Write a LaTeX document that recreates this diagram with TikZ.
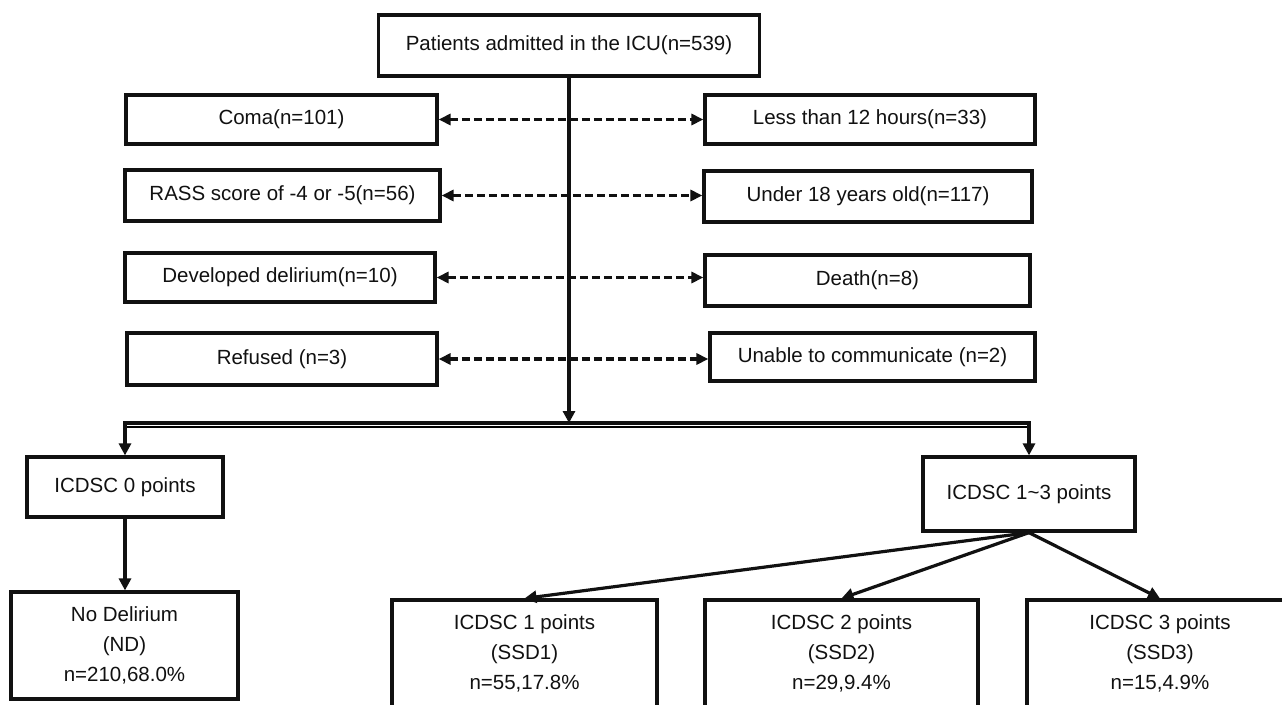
\documentclass[tikz,border=0pt]{standalone}
\usepackage{fontspec}
\setmainfont{Liberation Sans}
\usetikzlibrary{arrows.meta,calc}
\definecolor{ink}{HTML}{111111}
\definecolor{shade}{HTML}{9C9C9C}

\begin{document}
\begin{tikzpicture}[x=1pt,y=1pt,
  font=\fontsize{20.5}{30}\selectfont, text=ink,
  box/.style={draw=ink,line width=3.2pt,fill=white,align=center,inner sep=0pt},
  flow/.style={-{Triangle[length=12pt,width=12pt]},draw=ink,line width=3.2pt},
  exclude/.style={{Triangle[length=12pt,width=11pt]}-{Triangle[length=12pt,width=11pt]},
                  draw=ink,line width=3.2pt,dash pattern=on 8pt off 4pt}
]
% Picture spans 1282 x 704 units, one unit per pixel of the reference.
\path[use as bounding box,fill=white] (0,0) rectangle (1282,-704);

\node[box,minimum width=381,minimum height=61] (admit) at (569,-45.5) {Patients admitted in the ICU(n=539)};

\node[box,minimum width=311,minimum height=49] (coma) at (281.5,-119.5) {Coma(n=101)};
\node[box,minimum width=315,minimum height=51] (rass) at (282.5,-195.5) {RASS score of -4 or -5(n=56)};
\node[box,minimum width=310,minimum height=49] (developed) at (280,-277.5) {Developed delirium(n=10)};
\node[box,minimum width=310,minimum height=52] (refused) at (282,-359) {Refused (n=3)};

\node[box,minimum width=330,minimum height=49] (hours) at (870,-119.5) {Less than 12 hours(n=33)};
\node[box,minimum width=328,minimum height=51] (under) at (868,-196.5) {Under 18 years old(n=117)};
\node[box,minimum width=325,minimum height=51] (death) at (867.5,-280.5) {Death(n=8)};
\node[box,minimum width=325,minimum height=48] (unable) at (872.5,-357) {Unable to communicate (n=2)};

\foreach \lft/\rgt in {coma/hours,rass/under,developed/death,refused/unable}{
  \draw[exclude] (\lft.east) -- (\lft.east -| \rgt.west);}

\node[box,minimum width=196,minimum height=60] (icdsc0) at (125,-487) {ICDSC 0 points};
\node[box,minimum width=212,minimum height=74] (icdsc13) at (1029,-494) {ICDSC 1\textasciitilde3 points};

\coordinate (split) at (admit.south |- 0,-423);
\draw[shade,line width=1.4pt] ([yshift=-3.8pt]icdsc0.north |- split) -- ([yshift=-3.8pt]icdsc13.north |- split);
\draw[flow] (admit.south) -- (split);
\draw[flow] (split) -| (icdsc0.north);
\draw[flow] (split) -| (icdsc13.north);

\node[box,minimum width=227,minimum height=107] (nodel) at (124.5,-645.5) {No Delirium\\(ND)\\n=210,68.0\%};
\draw[flow] (icdsc0.south) -- (icdsc0.south |- nodel.north);

\node[box,minimum width=265,minimum height=107] (ssd1) at (524.5,-653.5) {ICDSC 1 points\\(SSD1)\\n=55,17.8\%};
\node[box,minimum width=273,minimum height=107] (ssd2) at (841.5,-653.5) {ICDSC 2 points\\(SSD2)\\n=29,9.4\%};
\node[box,minimum width=266,minimum height=107] (ssd3) at (1160,-653.5) {ICDSC 3 points\\(SSD3)\\n=15,4.9\%};
\foreach \target in {ssd1,ssd2,ssd3}{\draw[flow] (icdsc13.south) -- (\target.north);}
\end{tikzpicture}
\end{document}
